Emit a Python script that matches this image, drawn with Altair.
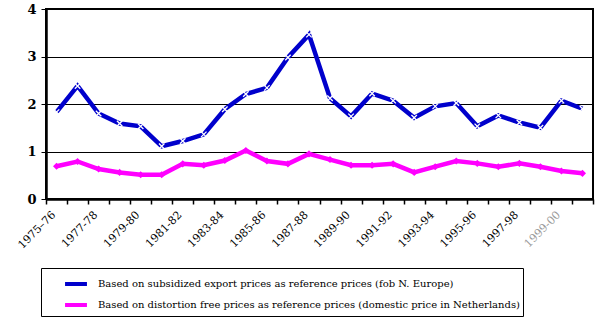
import altair as alt
import pandas as pd

periods = ["1975-76","1976-77","1977-78","1978-79","1979-80","1980-81","1981-82",
           "1982-83","1983-84","1984-85","1985-86","1986-87","1987-88","1988-89",
           "1989-90","1990-91","1991-92","1992-93","1993-94","1994-95","1995-96",
           "1996-97","1997-98","1998-99","1999-00","2000-01"]
shown_labels = ["1975-76","1977-78","1979-80","1981-82","1983-84","1985-86","1987-88",
                "1989-90","1991-92","1993-94","1995-96","1997-98","1999-00"]
subsidized = [1.83,2.38,1.80,1.59,1.53,1.11,1.22,1.36,1.89,2.21,2.34,2.98,3.46,
              2.12,1.74,2.22,2.07,1.71,1.95,2.02,1.53,1.76,1.61,1.50,2.07,1.90]
distortion_free = [0.69,0.79,0.63,0.56,0.51,0.51,0.74,0.71,0.81,1.02,0.80,0.74,0.95,
                   0.83,0.71,0.71,0.74,0.56,0.68,0.80,0.75,0.68,0.75,0.68,0.59,0.54]
series_names = ["Based on subsidized export prices as reference prices (fob N. Europe)",
                "Based on distortion free prices as reference prices (domestic price in Netherlands)"]
series_colors = ["#0000CC", "#FF00FF"]

FONT = "DejaVu Serif"

rows = []
for i, p in enumerate(periods):
    rows.append({"period": p, "series": series_names[0], "value": subsidized[i]})
    rows.append({"period": p, "series": series_names[1], "value": distortion_free[i]})
df = pd.DataFrame(rows)

arr = "[" + ",".join("'%s'" % s for s in shown_labels) + "]"
label_expr = ("datum.value == '1975-76' ? '1975\u201376' : (indexof(%s, datum.value) >= 0 ? datum.value : '')" % arr)

x_enc = alt.X("period:N", sort=periods,
              scale=alt.Scale(type="band", domain=periods, paddingInner=0, paddingOuter=0),
              axis=alt.Axis(title=None, labelExpr=label_expr, labelAngle=-45, labelAlign="right",
                            labelBaseline="middle", labelFontSize=11, labelFont=FONT,
                            labelColor={"condition": {"test": "datum.value == '1999-00'", "value": "#9a9a9a"}, "value": "black"},
                            labelPadding=9, labelOffset=-3, tickBand="extent", tickSize=5, tickWidth=1.5,
                            tickColor="black", domainColor="black", domainWidth=2.5, labelOverlap=False,
                            grid=False))
y_enc = alt.Y("value:Q", scale=alt.Scale(domain=[0, 4], nice=False),
              axis=alt.Axis(title=None, values=[0, 1, 2, 3, 4], labelFont=FONT,
                            labelFontSize=13, labelFontWeight="bold", labelPadding=5, tickSize=5,
                            tickColor="black", domainColor="black", domainWidth=2.5,
                            grid=True, gridColor="black", gridWidth=1.2))

base = alt.Chart(df)
lines = base.mark_line(strokeWidth=4.5).encode(
    x=x_enc, y=y_enc,
    color=alt.Color("series:N", sort=series_names,
                    scale=alt.Scale(domain=series_names, range=series_colors),
                    legend=alt.Legend(title=None, orient="none", legendX=-5, legendY=259,
                                      direction="vertical", symbolType="stroke",
                                      symbolStrokeWidth=4, symbolSize=480, symbolOffset=19,
                                      labelFontSize=10, labelFont=FONT,
                                      labelLimit=600, labelOffset=9, rowPadding=0,
                                      strokeColor="black", fillColor="white", padding=3)),
    detail="series:N")

blue_pts = base.transform_filter(alt.datum.series == series_names[0]).mark_point(
    shape="M-1,-1L1,1M1,-1L-1,1", stroke="white", strokeWidth=1.3, size=30, filled=False, opacity=1
).encode(x=alt.X("period:N", sort=periods), y="value:Q")
pink_pts = base.transform_filter(alt.datum.series == series_names[1]).mark_point(
    shape="diamond", color="#FF00FF", filled=True, size=50, opacity=1
).encode(x=alt.X("period:N", sort=periods), y="value:Q")

chart = alt.layer(lines, blue_pts, pink_pts).properties(
    width=547, height=190,
    autosize=alt.AutoSizeParams(type="none"),
    padding={"left": 46, "top": 9, "right": 6, "bottom": 122},
    background="white"
).configure_view(stroke="black", strokeWidth=2)

chart.save("out.html", embed_options={"renderer": "svg", "actions": False})
